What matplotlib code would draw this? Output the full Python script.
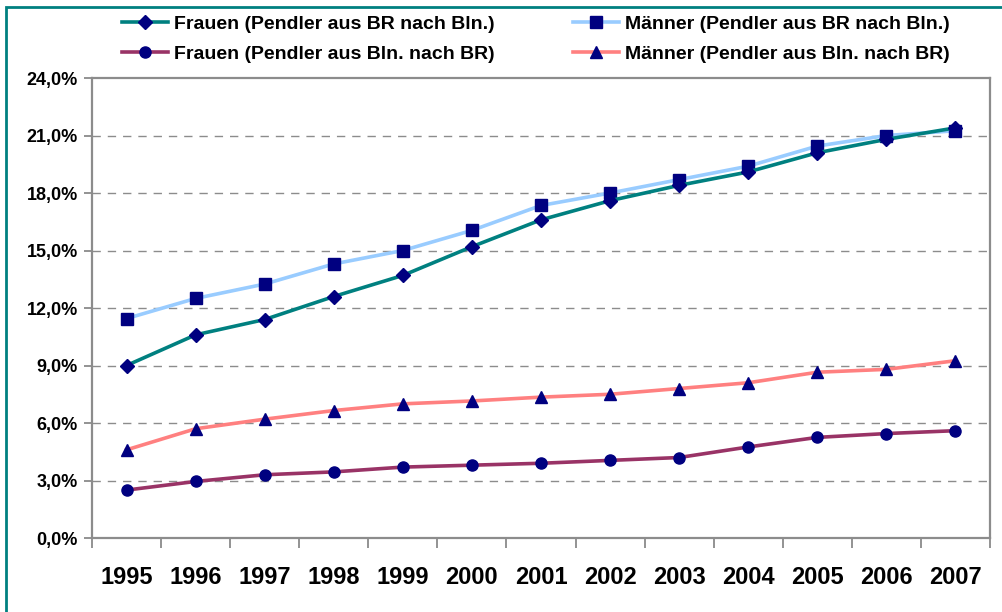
"""Pendleranteile Berlin/Brandenburg 1995-2007 (Liniendiagramm)."""
import numpy as np
import matplotlib
matplotlib.use("Agg")
import matplotlib.pyplot as plt
from matplotlib.patches import Rectangle
from matplotlib.ticker import FuncFormatter, MultipleLocator

matplotlib.rcParams["font.family"] = ["Liberation Sans", "DejaVu Sans"]
matplotlib.rcParams["font.weight"] = "bold"

years = ["1995", "1996", "1997", "1998", "1999", "2000", "2001",
         "2002", "2003", "2004", "2005", "2006", "2007"]

# Anteile in %
frauen_br_bln = [9.0, 10.6, 11.4, 12.6, 13.7, 15.2, 16.6, 17.6, 18.4, 19.1, 20.1, 20.8, 21.4]
maenner_br_bln = [11.45, 12.5, 13.25, 14.3, 15.0, 16.05, 17.35, 18.0, 18.7, 19.4, 20.45, 21.0, 21.25]
frauen_bln_br = [2.5, 2.95, 3.3, 3.45, 3.7, 3.8, 3.9, 4.05, 4.2, 4.75, 5.25, 5.45, 5.6]
maenner_bln_br = [4.6, 5.7, 6.2, 6.65, 7.0, 7.15, 7.35, 7.5, 7.8, 8.1, 8.65, 8.8, 9.25]

labels = [
    "Frauen (Pendler aus BR nach Bln.)",
    "Männer (Pendler aus BR nach Bln.)",
    "Frauen (Pendler aus Bln. nach BR)",
    "Männer (Pendler aus Bln. nach BR)",
]

MARKER_COLOR = "#000080"
GRID_COLOR = "#8c8c8c"

fig = plt.figure(figsize=(10.03, 6.12), dpi=100)
fig.patch.set_facecolor("white")
# türkiser Rahmen um das Diagramm
fig.add_artist(Rectangle((0.006, -0.01), 1.1, 0.998, transform=fig.transFigure,
                         fill=False, edgecolor="#008080", linewidth=2.0))

ax = fig.add_axes([0.0917, 0.1209, 0.8953, 0.7516])
x = np.arange(len(years))

l1, = ax.plot(x, frauen_br_bln, color="#008080", lw=2.6, marker="D", ms=7,
              mfc=MARKER_COLOR, mec=MARKER_COLOR, label=labels[0], zorder=4)
l2, = ax.plot(x, maenner_br_bln, color="#99CCFF", lw=2.6, marker="s", ms=8,
              mfc=MARKER_COLOR, mec=MARKER_COLOR, label=labels[1], zorder=3)
l3, = ax.plot(x, frauen_bln_br, color="#993366", lw=2.6, marker="o", ms=8,
              mfc=MARKER_COLOR, mec=MARKER_COLOR, label=labels[2], zorder=3)
l4, = ax.plot(x, maenner_bln_br, color="#FF8080", lw=2.6, marker="^", ms=9,
              mfc=MARKER_COLOR, mec=MARKER_COLOR, label=labels[3], zorder=3)

ax.set_xlim(-0.5, len(years) - 0.5)
ax.set_ylim(0, 24)
ax.yaxis.set_major_locator(MultipleLocator(3))
ax.yaxis.set_major_formatter(FuncFormatter(lambda v, _: f"{v:.1f}%".replace(".", ",")))
for v in np.arange(3, 24, 3):
    ax.axhline(v, color=GRID_COLOR, lw=1.0, ls=(0, (6, 5)), zorder=1)

# Kategorien-Ticks zwischen den Jahren, Labels mittig
ax.set_xticks(np.arange(-0.5, len(years), 1.0))
ax.set_xticklabels([])
ax.set_xticks(x, minor=True)
ax.set_xticklabels(years, minor=True, fontsize=17, fontweight="bold")
ax.tick_params(axis="x", which="major", length=7, width=1.2, color="#808080", direction="out")
ax.tick_params(axis="x", which="minor", length=0, pad=20)
ax.tick_params(axis="y", length=6, width=1.2, color="#808080", labelsize=13, pad=4)

for sp in ax.spines.values():
    sp.set_color("#8c8c8c")
    sp.set_linewidth(1.6)

# Reihenfolge so, dass die Legende zeilenweise gelesen wird
fig.legend(handles=[l1, l3, l2, l4], loc="upper left", bbox_to_anchor=(0.104, 1.003),
           ncol=2, frameon=False, handlelength=2.4, handletextpad=0.3,
           columnspacing=4.0, labelspacing=0.6,
           prop={"weight": "bold", "size": 14})

fig.savefig("out.png", dpi=100)
